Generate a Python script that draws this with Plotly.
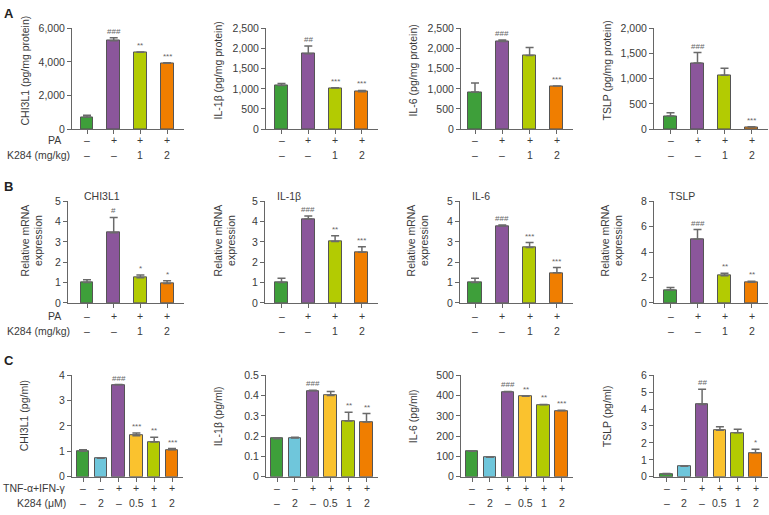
import plotly.graph_objects as go

W, H = 769, 515

# ---- condition labels ----
ab_pa = ["–", "+", "+", "+"]
ab_k284 = ["–", "–", "1", "2"]
c_tnf = ["–", "–", "+", "+", "+", "+"]
c_k284 = ["–", "2", "–", "0.5", "1", "2"]

# ---- Row A: protein (pg/mg protein) ----
a_chi3l1 = [720, 5270, 4580, 3920]
a_chi3l1_err = [100, 170, 20, 30]
a_chi3l1_sig = ["", "###", "**", "***"]
a_il1b = [1084, 1869, 1019, 930]
a_il1b_err = [50, 195, 10, 30]
a_il1b_sig = ["", "##", "***", "***"]
a_il6 = [922, 2176, 1828, 1068]
a_il6_err = [220, 40, 200, 5]
a_il6_sig = ["", "###", "", "***"]
a_tslp = [259, 1314, 1068, 39]
a_tslp_err = [65, 207, 142, 5]
a_tslp_sig = ["", "###", "", "***"]

# ---- Row B: relative mRNA ----
b_chi3l1 = [1.01, 3.46, 1.24, 0.95]
b_chi3l1_err = [0.13, 0.75, 0.14, 0.14]
b_chi3l1_sig = ["", "#", "*", "*"]
b_il1b = [1.0, 4.13, 3.02, 2.49]
b_il1b_err = [0.22, 0.15, 0.29, 0.27]
b_il1b_sig = ["", "###", "**", "***"]
b_il6 = [1.0, 3.79, 2.73, 1.48]
b_il6_err = [0.22, 0.05, 0.24, 0.26]
b_il6_sig = ["", "###", "***", "***"]
b_tslp = [1.02, 5.02, 2.14, 1.63]
b_tslp_err = [0.2, 0.76, 0.2, 0.08]
b_tslp_sig = ["", "###", "**", "**"]

# ---- Row C: cells (pg/ml) ----
c_chi3l1 = [1.0, 0.73, 3.62, 1.62, 1.37, 1.06]
c_chi3l1_err = [0.06, 0.01, 0.01, 0.1, 0.19, 0.05]
c_chi3l1_sig = ["", "", "###", "***", "**", "***"]
c_il1b = [0.1875, 0.191, 0.423, 0.40, 0.274, 0.269]
c_il1b_err = [0.003, 0.003, 0.003, 0.02, 0.043, 0.042]
c_il1b_sig = ["", "", "###", "", "**", "**"]
c_il6 = [125, 96, 418, 396, 354, 325]
c_il6_err = [1, 1, 2, 2, 2, 2]
c_il6_sig = ["", "", "###", "**", "**", "***"]
c_tslp = [0.15, 0.62, 4.27, 2.75, 2.60, 1.42]
c_tslp_err = [0.05, 0.02, 0.9, 0.21, 0.21, 0.2]
c_tslp_sig = ["", "", "##", "", "", "*"]

GREEN, CYAN, PURPLE, YELLOW, LIME, ORANGE = "#3e9f3a", "#6fc6db", "#8b569b", "#fac22e", "#b3cb02", "#f07e00"
colors4 = [GREEN, PURPLE, LIME, ORANGE]
colors6 = [GREEN, CYAN, PURPLE, YELLOW, LIME, ORANGE]

FONT = "Liberation Sans, Arial, sans-serif"
TXT = "#3a3a3a"
AX = "#666666"

rows_y = {"A": (23, 126), "B": (200, 304), "C": (378, 482)}
ytitle_cy = {"A": 66, "B": 240, "C": 420}
geom4 = [(72, 184, 87, 26.7), (266, 378, 281.5, 26.8), (461, 573, 475, 27.3), (654, 768, 670.5, 27.0)]
geom4b = [(68, 184, 87, 26.7), (265, 378, 281.5, 26.8), (460, 573, 475, 27.3), (654, 768, 670.5, 27.0)]
geom6 = [(72, 183, 83, 17.8), (266, 378, 277, 17.9), (461, 573, 472, 17.9), (654, 768, 666.5, 17.8)]
btitle_x = [82, 275, 470, 667]

panels = [
    ("A", 0, a_chi3l1, a_chi3l1_err, a_chi3l1_sig, 6000, 2000, "CHI3L1 (pg/mg protein)", None),
    ("A", 1, a_il1b, a_il1b_err, a_il1b_sig, 2500, 500, "IL-1β (pg/mg protein)", None),
    ("A", 2, a_il6, a_il6_err, a_il6_sig, 2500, 500, "IL-6 (pg/mg protein)", None),
    ("A", 3, a_tslp, a_tslp_err, a_tslp_sig, 2000, 500, "TSLP (pg/mg protein)", None),
    ("B", 0, b_chi3l1, b_chi3l1_err, b_chi3l1_sig, 5, 1, "Relative mRNA<br>expression", "CHI3L1"),
    ("B", 1, b_il1b, b_il1b_err, b_il1b_sig, 5, 1, "Relative mRNA<br>expression", "IL-1β"),
    ("B", 2, b_il6, b_il6_err, b_il6_sig, 5, 1, "Relative mRNA<br>expression", "IL-6"),
    ("B", 3, b_tslp, b_tslp_err, b_tslp_sig, 8, 2, "Relative mRNA<br>expression", "TSLP"),
    ("C", 0, c_chi3l1, c_chi3l1_err, c_chi3l1_sig, 4, 1, "CHI3L1 (pg/ml)", None),
    ("C", 1, c_il1b, c_il1b_err, c_il1b_sig, 0.5, 0.1, "IL-1β (pg/ml)", None),
    ("C", 2, c_il6, c_il6_err, c_il6_sig, 500, 100, "IL-6 (pg/ml)", None),
    ("C", 3, c_tslp, c_tslp_err, c_tslp_sig, 6, 1, "TSLP (pg/ml)", None),
]
ytitle_x = {"A": [25, 218, 413, 607], "B": [32, 225, 418, 612], "C": [24, 218, 413, 607]}

def px(x):
    return x / W

def py(y):
    return 1 - y / H

fig = go.Figure()
annotations = []
layout = {}

for k, (row, col, vals, errs, sigs, ymax, dtick, ytitle, ptitle) in enumerate(panels):
    n = k + 1
    xs = "" if n == 1 else str(n)
    top, bot = rows_y[row]
    if row == "C":
        L, R, c0, s = geom6[col]
        cols = colors6
        bw = 0.7
    elif row == "B":
        L, R, c0, s = geom4b[col]
        cols = colors4
        bw = 0.48
    else:
        L, R, c0, s = geom4[col]
        cols = colors4
        bw = 0.48
    idx = list(range(len(vals)))
    fig.add_trace(go.Bar(
        x=idx, y=vals, width=bw,
        marker=dict(color=cols, line=dict(color="#555555", width=1)),
        error_y=dict(type="data", array=errs, arrayminus=[0] * len(errs), symmetric=False,
                     color="#6a6a6a", thickness=1.5, width=4),
        xaxis="x" + xs, yaxis="y" + xs, showlegend=False, hoverinfo="skip",
    ))
    layout["xaxis" + xs] = dict(
        domain=[px(L), px(R)], anchor="y" + xs,
        range=[(L - c0) / s, (R - c0) / s],
        tickvals=idx, showticklabels=False, ticks="outside", ticklen=4,
        tickcolor=AX, showline=True, linecolor=AX, linewidth=1,
        showgrid=False, zeroline=False, fixedrange=True,
    )
    layout["yaxis" + xs] = dict(
        domain=[py(bot), py(top)], anchor="x" + xs,
        range=[0, ymax], dtick=dtick, tick0=0, tickformat=",",
        ticks="outside", ticklen=4, tickcolor=AX,
        showline=True, linecolor=AX, linewidth=1,
        showgrid=False, zeroline=False,
        tickfont=dict(family=FONT, size=10.5, color=TXT),
    )
    for i, (v, e, sg) in enumerate(zip(vals, errs, sigs)):
        if sg:
            annotations.append(dict(
                x=i, y=v + e, xref="x" + xs, yref="y" + xs, text=sg,
                showarrow=False, yanchor="bottom", yshift=0,
                font=dict(family=FONT, size=8, color="#666666"),
            ))
    if row == "C":
        r1, r2 = c_tnf, c_k284
        y1, y2 = 494, 509
    elif row == "B":
        r1, r2 = ab_pa, ab_k284
        y1, y2 = 317, 333
    else:
        r1, r2 = ab_pa, ab_k284
        y1, y2 = 137, 153
    for i in idx:
        for lab, yy in ((r1[i], y1), (r2[i], y2)):
            annotations.append(dict(
                x=i, y=py(yy), xref="x" + xs, yref="paper", text=lab,
                showarrow=False, yanchor="middle",
                font=dict(family=FONT, size=10.5, color=TXT),
            ))
    annotations.append(dict(
        x=px(ytitle_x[row][col]), y=py(ytitle_cy[row]), xref="paper", yref="paper",
        text=ytitle, textangle=-90, showarrow=False,
        xanchor="center", yanchor="middle",
        font=dict(family=FONT, size=10.5, color=TXT),
    ))
    if ptitle:
        annotations.append(dict(
            x=px(btitle_x[col]), y=py(195), xref="paper", yref="paper",
            text=ptitle, showarrow=False, xanchor="left", yanchor="middle",
            font=dict(family=FONT, size=10.5, color=TXT),
        ))

for text, xr, yy in [("PA", 63, 137), ("K284 (mg/kg)", 72, 153),
                     ("PA", 63, 317), ("K284 (mg/kg)", 72, 333),
                     ("TNF-α+IFN-γ", 68, 494), ("K284 (μM)", 68, 509)]:
    annotations.append(dict(
        x=px(xr), y=py(yy), xref="paper", yref="paper", text=text,
        showarrow=False, xanchor="right", yanchor="middle",
        font=dict(family=FONT, size=10.5, color=TXT),
    ))

for letter, yy in [("A", 8), ("B", 185), ("C", 363)]:
    annotations.append(dict(
        x=px(2), y=py(yy), xref="paper", yref="paper", text="<b>%s</b>" % letter,
        showarrow=False, xanchor="left", yanchor="middle",
        font=dict(family=FONT, size=13, color="#222222"),
    ))

fig.update_layout(
    width=W, height=H, margin=dict(l=0, r=0, t=0, b=0),
    paper_bgcolor="white", plot_bgcolor="white",
    annotations=annotations, bargap=0, **layout,
)

fig.write_html("out.html", config={"displayModeBar": False},
               post_script="document.body.style.margin='0px';document.body.style.overflow='hidden';")
